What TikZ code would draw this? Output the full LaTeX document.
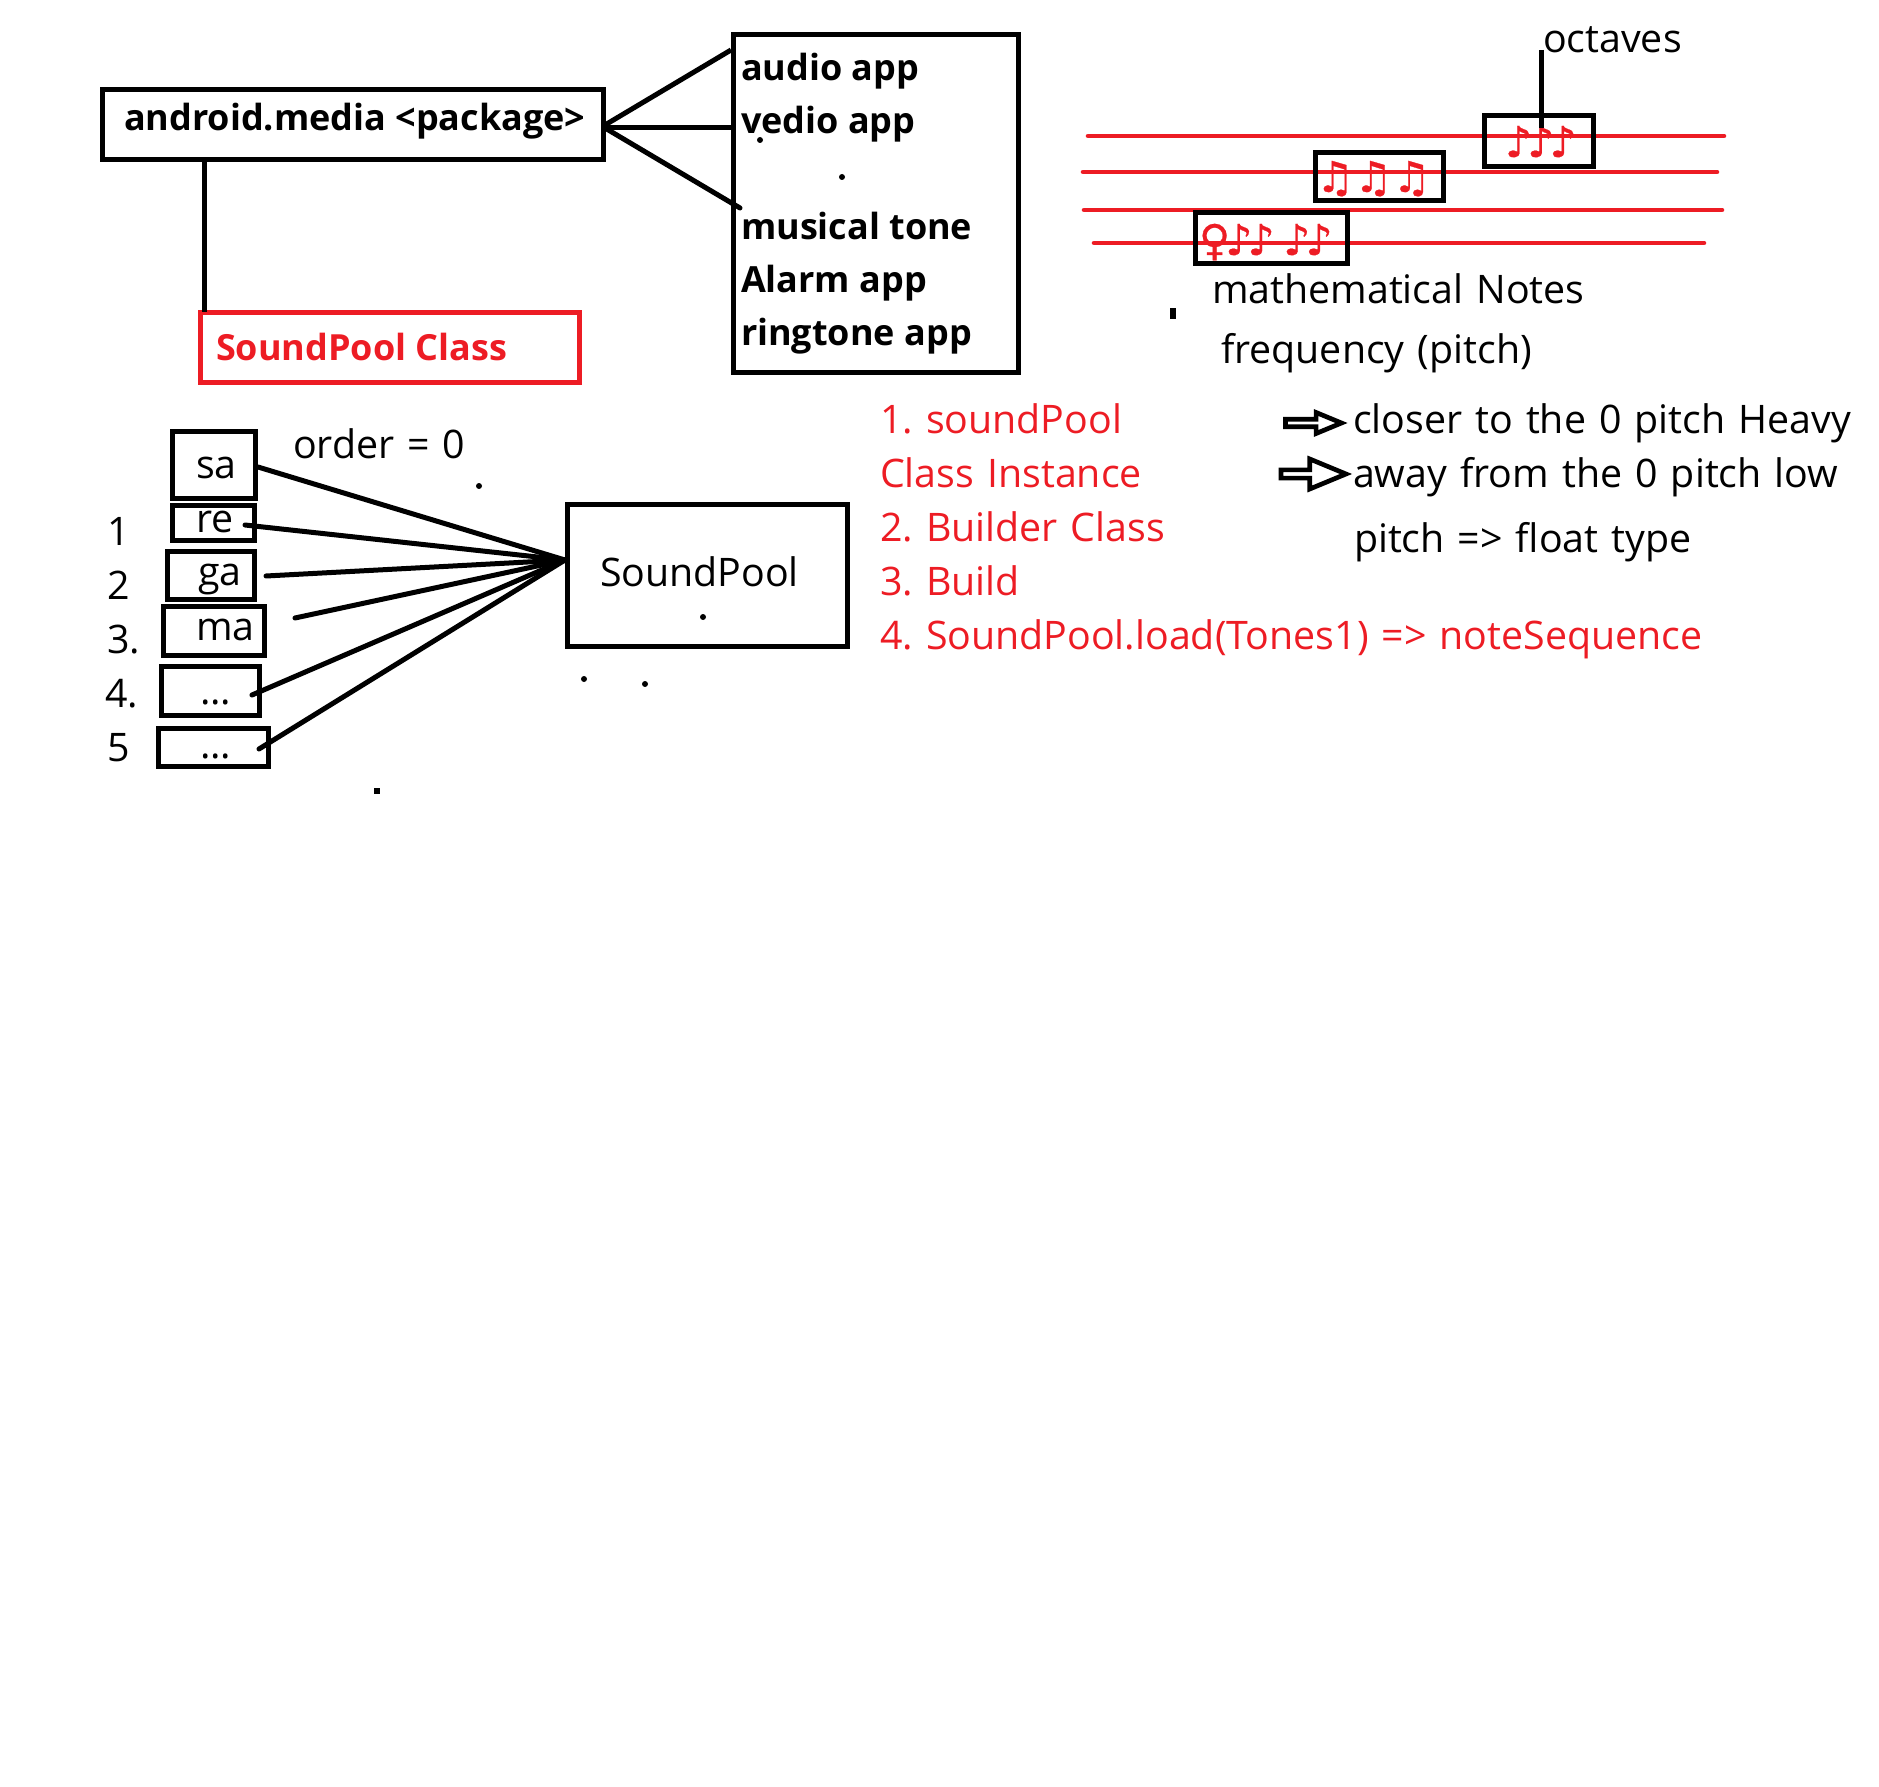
\documentclass[tikz,border=0pt]{standalone}
\usepackage{fontspec}
\usetikzlibrary{shapes.arrows}
\setmainfont{Open Sans}
\newfontfamily\lblfont[WordSpace=1.28]{Open Sans}
\newfontfamily\notefont[FakeBold=0.6]{DejaVu Sans}
\newfontfamily\tightnotefont[FakeBold=0.6,LetterSpace=-11.7]{DejaVu Sans}
\definecolor{paintred}{RGB}{237,28,36}
\frenchspacing
\tikzset{
	every picture/.style={line width=3pt},
	boxsize/.style 2 args={minimum width=#1*0.75pt,minimum height=#2*0.75pt},
	pbox/.style={draw=black,line width=3.75pt,inner sep=0pt},
	redbox/.style={draw=paintred,line width=3.75pt,inner sep=0pt},
	lbl/.style={anchor=base west,inner sep=0pt,font=\fontsize{29.5}{36}\lblfont},
	boldlbl/.style={lbl,font=\fontsize{27}{32}\selectfont\bfseries},
	redlbl/.style={lbl,text=paintred},
	notes/.style={anchor=base west,inner sep=0pt,text=paintred,font=\fontsize{32}{36}\notefont},
	tightnotes/.style={anchor=base west,inner sep=0pt,text=paintred,font=\fontsize{32}{36}\tightnotefont},
	staff/.style={draw=paintred,line width=3.4pt,line cap=round},
	wire/.style={draw=black,line width=3.75pt},
	speck/.style={fill=black,circle,inner sep=0pt,minimum size=4.5pt},
	hollow/.style={draw=black,line width=3.5pt,single arrow,inner sep=0pt,single arrow tip angle=45}
}
\begin{document}
\begin{tikzpicture}[x=0.75pt,y=0.75pt,yscale=-1,xscale=1]
	\useasboundingbox (0,0) rectangle (1879,1787);

	%Staff ends
	\coordinate (s1a) at (1088,136);
	\coordinate (s1b) at (1724,136);
	\coordinate (s2a) at (1083,172);
	\coordinate (s2b) at (1717,172);
	\coordinate (s3a) at (1084,210);
	\coordinate (s3b) at (1722,210);
	\coordinate (s4a) at (1094,243);
	\coordinate (s4b) at (1704,243);
	\draw [staff] (s1a) -- (s1b);
	\draw [staff] (s2a) -- (s2b);
	\draw [staff] (s3a) -- (s3b);
	\draw [staff] (s4a) -- (s4b);

	%Boxes
	\node [pbox,boxsize={501}{70}] (android) at (353,124.5) {};
	\node [pbox,boxsize={285}{337.5}] (apps) at (876,203.75) {};
	\node [redbox,boxsize={379}{70}] (spclass) at (390,347.5) {};
	\node [pbox,boxsize={109}{51}] (octbox) at (1539,141) {};
	\node [pbox,boxsize={128}{48}] (midbox) at (1379.5,176.5) {};
	\node [pbox,boxsize={152}{51}] (lowbox) at (1271.5,238) {};
	\node [pbox,boxsize={83}{67}] (sabox) at (214,465) {};
	\node [pbox,boxsize={82}{35}] (rebox) at (213.5,523) {};
	\node [pbox,boxsize={87}{48}] (gabox) at (211,575.5) {};
	\node [pbox,boxsize={101}{49}] (mabox) at (214,631) {};
	\node [pbox,boxsize={98}{49}] (fourbox) at (210.5,691) {};
	\node [pbox,boxsize={110}{38}] (fivebox) at (213.5,747.5) {};
	\node [pbox,boxsize={280}{142}] (soundpool) at (707.5,575.5) {};

	%Connector ends
	\coordinate (hub) at (565,560);
	\coordinate (audioend) at (731,50);
	\coordinate (vedioend) at (731,128);
	\coordinate (toneend) at (740,208);
	\coordinate (pkgout) at (605,125);
	\coordinate (pkgmid) at (605,128);
	\coordinate (pkgdown) at (204.5,160);
	\coordinate (classup) at (204.5,312);
	\coordinate (saend) at (258,467);
	\coordinate (reend) at (245,525);
	\coordinate (gaend) at (266,576);
	\coordinate (maend) at (295,618);
	\coordinate (fourend) at (252,695);
	\coordinate (fiveend) at (259,749);
	\coordinate (octtop) at (1541,50);
	\coordinate (octlow) at (1541,128);

	%Straight Lines
	\draw [wire] (pkgout) -- (audioend);
	\draw [wire] (pkgmid) -- (vedioend);
	\draw [wire,line cap=round] (pkgmid) -- (toneend);
	\draw [wire] (pkgdown) -- (classup);
	\draw [wire,line cap=round] (saend) -- (hub);
	\draw [wire,line cap=round] (reend) -- (hub);
	\draw [wire,line cap=round] (gaend) -- (hub);
	\draw [wire,line cap=round] (maend) -- (hub);
	\draw [wire,line cap=round] (fourend) -- (hub);
	\draw [wire,line cap=round] (fiveend) -- (hub);

	%Block arrows
	\node [hollow,minimum height=42pt,minimum width=15.75pt,single arrow head extend=3.2pt] (closearrow) at (1309,423) {};
	\node [hollow,minimum height=48.75pt,minimum width=22.5pt,single arrow head extend=4.6pt] (awayarrow) at (1308.5,474) {};

	%Specks
	\node [speck] (d1) at (760,140) {};
	\node [speck] (d2) at (842,177) {};
	\node [speck] (d3) at (479,486) {};
	\node [speck] (d4) at (703,617) {};
	\node [speck] (d5) at (584,679) {};
	\node [speck] (d6) at (645,684) {};
	\node [fill=black,inner sep=0pt,minimum size=4.5pt] (d7) at (377,791) {};
	\node [fill=black,inner sep=0pt,minimum width=4.5pt,minimum height=8.25pt] (d8) at (1173,314) {};

	% Text Node
	\node [boldlbl] (androidlbl) at (122,131) {android.media <package>};
	\node [boldlbl] (audio) at (739,81) {audio app};
	\node [boldlbl] (vedio) at (739,134) {vedio app};
	\node [boldlbl] (tone) at (739,240) {musical tone};
	\node [boldlbl] (alarm) at (739,293) {Alarm app};
	\node [boldlbl] (ringtone) at (739,346) {ringtone app};
	\node [boldlbl,text=paintred] (classlbl) at (214,361) {SoundPool Class};
	% Text Node
	\node [lbl] (octaves) at (1541,53) {octaves};
	\node [lbl] (mathnotes) at (1210,304) {mathematical Notes};
	\node [lbl] (freq) at (1219,364) {frequency (pitch)};
	\node [tightnotes] (octnotes) at (1503,157) {♪♪♪};
	\node [notes] (midnotes) at (1314,192) {♫♫♫};
	\node [tightnotes] (lownotes) at (1197,255) {♀♪♪ ♪♪};
	% Text Node
	\node [lbl] (orderlbl) at (291,459) {order = 0};
	\node [lbl] (sa) at (194,478) {sa};
	\node [lbl] (re) at (194,532) {re};
	\node [lbl] (ga) at (196,585) {ga};
	\node [lbl] (ma) at (194,640) {ma};
	\node [lbl] (fourdots) at (198,704) {...};
	\node [lbl] (fivedots) at (198,758) {...};
	\node [lbl] (n1) at (105,545) {1};
	\node [lbl] (n2) at (105,599) {2};
	\node [lbl] (n3) at (105,653) {3.};
	\node [lbl] (n4) at (103,707) {4.};
	\node [lbl] (n5) at (105,761) {5};
	\node [lbl] (splbl) at (598,586) {SoundPool};
	% Text Node
	\node [redlbl] (step1) at (878,433) {1. soundPool};
	\node [redlbl] (step1b) at (878,487) {Class Instance};
	\node [redlbl] (step2) at (878,541) {2. Builder Class};
	\node [redlbl] (step3) at (878,595) {3. Build};
	\node [redlbl] (step4) at (878,649) {4. SoundPool.load(Tones1) => noteSequence};
	\node [lbl] (closer) at (1351,433) {closer to the 0 pitch Heavy};
	\node [lbl] (away) at (1351,487) {away from the 0 pitch low};
	\node [lbl] (pitch) at (1352,552) {pitch => float type};

	%Octave pointer
	\draw [wire] (octtop) -- (octlow);
\end{tikzpicture}
\end{document}
